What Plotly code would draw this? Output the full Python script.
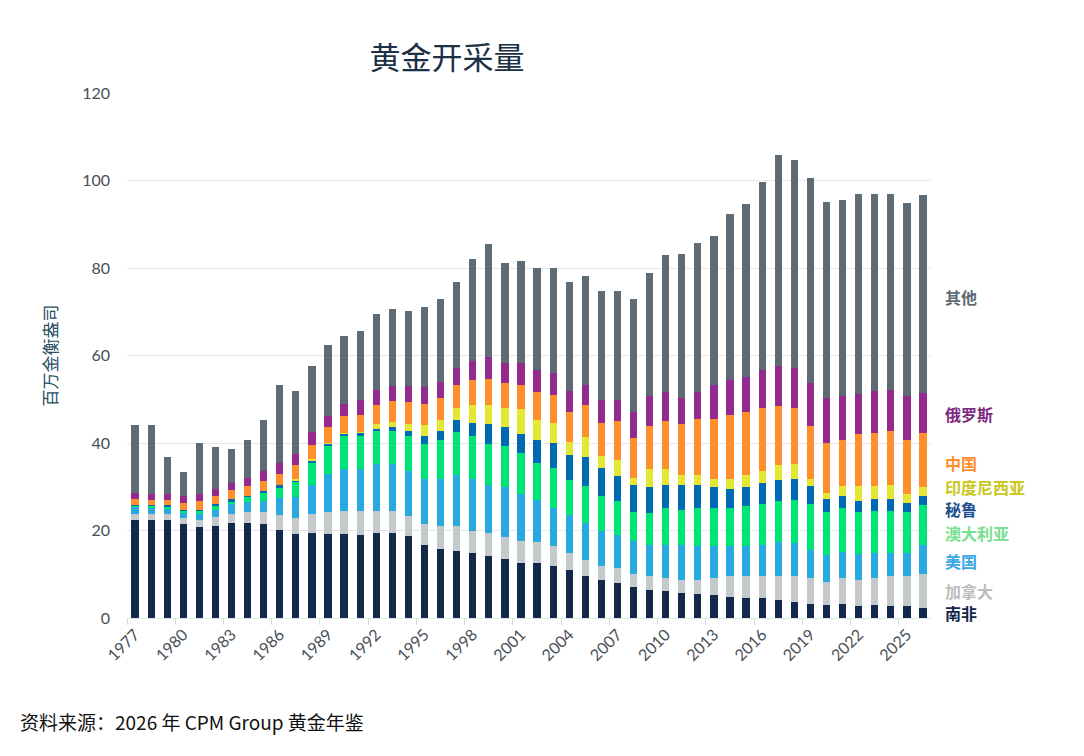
import plotly.graph_objects as go

years = [str(y) for y in range(1977, 2027)]

south_africa = [22.3, 22.3, 22.3, 21.4, 20.8, 21.0, 21.7, 21.7, 21.4, 20.2,
                19.3, 19.5, 19.1, 19.1, 18.9, 19.5, 19.5, 18.7, 16.8, 15.8,
                15.4, 14.9, 14.2, 13.6, 12.6, 12.6, 12.0, 10.9, 9.5, 8.6,
                8.0, 7.1, 6.5, 6.1, 5.8, 5.6, 5.2, 4.8, 4.6, 4.6,
                4.2, 3.7, 3.3, 2.9, 3.3, 2.7, 2.9, 2.7, 2.7, 2.4]
canada = [1.5, 1.5, 1.5, 1.5, 1.7, 2.2, 2.1, 2.5, 2.8, 3.4,
          3.6, 4.3, 5.1, 5.4, 5.6, 5.0, 5.0, 4.6, 4.6, 5.2,
          5.6, 4.9, 5.2, 4.9, 5.0, 4.8, 4.4, 4.0, 3.8, 3.4,
          3.4, 3.0, 3.0, 3.1, 3.0, 3.2, 4.0, 4.7, 4.9, 5.1,
          5.5, 6.0, 5.9, 5.3, 5.9, 5.9, 6.3, 6.8, 7.0, 7.7]
usa = [1.6, 1.4, 1.2, 1.1, 1.3, 1.6, 2.2, 2.3, 2.5, 3.8,
       4.8, 6.7, 8.8, 9.5, 9.5, 10.8, 10.8, 10.3, 10.3, 10.8,
       11.7, 11.9, 11.1, 11.4, 10.7, 9.6, 8.7, 8.6, 8.5, 7.9,
       7.6, 7.4, 7.3, 7.6, 7.8, 7.6, 7.2, 6.9, 6.9, 7.1,
       7.7, 7.4, 6.3, 6.3, 6.0, 6.0, 5.7, 5.4, 5.2, 6.7]
australia = [0.4, 0.5, 0.5, 0.5, 0.7, 0.9, 0.7, 1.2, 1.9, 2.5,
             3.4, 4.9, 6.5, 7.7, 7.7, 7.6, 7.4, 8.1, 8.1, 8.8,
             9.9, 10.0, 9.3, 9.4, 9.4, 8.4, 9.3, 8.0, 8.4, 8.1,
             7.7, 6.7, 7.2, 8.3, 8.2, 8.7, 8.7, 8.7, 9.1, 9.2,
             9.3, 9.9, 10.5, 9.7, 9.9, 9.6, 9.6, 9.6, 9.3, 9.0]
peru = [0.1, 0.1, 0.3, 0.3, 0.3, 0.4, 0.4, 0.3, 0.4, 0.4,
        0.4, 0.6, 0.3, 0.4, 0.6, 0.4, 1.0, 1.0, 1.9, 2.1,
        2.7, 2.9, 4.5, 4.4, 4.4, 5.2, 5.6, 5.7, 6.6, 6.4,
        5.8, 6.1, 5.9, 5.4, 5.5, 5.4, 4.8, 4.5, 4.4, 4.9,
        4.8, 4.7, 4.2, 2.9, 2.9, 2.5, 2.6, 2.6, 2.2, 2.2]
indonesia = [0.0, 0.0, 0.0, 0.0, 0.0, 0.0, 0.0, 0.0, 0.0, 0.0,
             0.2, 0.3, 0.2, 0.1, 0.2, 1.0, 1.1, 1.7, 2.5, 2.6,
             2.7, 4.0, 4.3, 4.3, 5.6, 4.7, 4.6, 3.0, 4.6, 2.6,
             3.7, 1.8, 4.1, 3.5, 2.3, 2.3, 1.8, 2.1, 2.7, 2.6,
             3.4, 3.4, 1.5, 1.5, 2.2, 3.5, 3.1, 3.4, 1.9, 1.9]
china = [1.4, 1.2, 1.2, 1.6, 1.9, 1.9, 2.2, 2.2, 2.3, 2.7,
         3.2, 3.3, 3.7, 3.9, 4.0, 4.5, 4.8, 5.0, 4.8, 5.0,
         5.2, 5.7, 6.1, 5.7, 5.6, 6.4, 6.3, 7.0, 7.4, 7.6,
         8.8, 9.0, 10.0, 11.0, 11.7, 12.8, 13.9, 14.8, 14.6, 14.5,
         13.5, 12.9, 12.3, 11.5, 10.6, 11.9, 12.2, 12.2, 12.5, 12.5]
russia = [1.3, 1.3, 1.3, 1.6, 1.6, 1.6, 1.6, 1.9, 2.3, 2.4,
          2.5, 2.9, 2.4, 2.9, 3.4, 3.4, 3.4, 3.6, 3.8, 3.6,
          3.9, 4.4, 5.0, 4.7, 5.1, 4.9, 5.1, 4.8, 4.5, 5.3,
          4.9, 6.1, 6.7, 6.7, 6.0, 6.1, 7.6, 7.8, 8.0, 8.8,
          9.1, 9.1, 9.7, 10.2, 9.9, 9.0, 9.5, 9.5, 9.9, 9.1]
other = [15.5, 15.8, 8.6, 5.4, 11.7, 9.5, 7.8, 8.5, 11.7, 17.8,
         14.5, 15.1, 16.2, 15.5, 15.8, 17.3, 17.7, 17.1, 18.3, 19.0,
         19.6, 23.3, 25.7, 22.7, 23.3, 23.5, 24.1, 24.7, 24.9, 24.9,
         24.9, 25.7, 28.2, 31.3, 33.0, 34.1, 34.1, 38.1, 39.4, 42.8,
         48.4, 47.5, 46.8, 44.9, 44.8, 45.9, 45.1, 44.8, 44.2, 45.2]

series_names = ["南非", "加拿大", "美国", "澳大利亚", "秘鲁", "印度尼西亚", "中国", "俄罗斯", "其他"]
series_values = [south_africa, canada, usa, australia, peru, indonesia, china, russia, other]
bar_colors = ["#13294b", "#c4c9cc", "#29a9e1", "#00e676", "#0069b4", "#e4e833", "#ff8f2d", "#952a8e", "#5e6a74"]
label_colors = ["#13294b", "#bcbcbc", "#3aa9e3", "#78e08f", "#1f4f8f", "#c8c81a", "#ff8f2d", "#7c2a82", "#5e6a74"]
label_y = [1.1, 6.2, 13.0, 19.4, 24.9, 29.9, 35.4, 46.6, 73.4]
y_ticks = [0, 20, 40, 60, 80, 100, 120]

fig = go.Figure()
for name, vals, col in zip(series_names, series_values, bar_colors):
    fig.add_trace(go.Bar(x=years, y=vals, name=name, marker=dict(color=col, line=dict(width=0))))

# page body has an 8px margin, so figure coordinates are offset by 8px
OFF = 8
W, H = 1084 - OFF, 756 - OFF
L, T = 127 - OFF, 92.5 - OFF
R = W - (931 - OFF)
B = H - (618 - OFF)
pw, ph = W - L - R, H - T - B

annotations = []
for name, yy, col in zip(series_names, label_y, label_colors):
    annotations.append(dict(x=(943 - OFF - L) / pw, y=yy, xref="paper", yref="y", text="<b>%s</b>" % name,
                            showarrow=False, xanchor="left", yanchor="middle",
                            font=dict(family="Noto Sans CJK SC", size=16, color=col)))
annotations.append(dict(x=(18 - OFF - L) / pw, y=(618 - 722) / ph, xref="paper", yref="paper",
                        text="资料来源：2026 年 CPM Group 黄金年鉴", showarrow=False,
                        xanchor="left", yanchor="middle",
                        font=dict(family="Noto Sans CJK SC", size=19, color="#111111")))

fig.update_layout(
    barmode="stack",
    bargap=0.55,
    width=W, height=H,
    margin=dict(l=L, r=R, t=T, b=B, autoexpand=False),
    paper_bgcolor="white", plot_bgcolor="white",
    showlegend=False,
    title=dict(text="黄金开采量", x=(447 - OFF) / W, xanchor="center", xref="container",
               y=1 - (58 - OFF) / H, yanchor="middle", yref="container",
               font=dict(family="Noto Sans CJK SC", size=31, color="#1b2f45")),
    annotations=annotations,
    xaxis=dict(type="category", tickson="boundaries", dtick=3, tickangle=-45,
               ticks="outside", ticklen=6, tickcolor="#dddddd", showgrid=False,
               showline=True, linecolor="#e3e3e3",
               tickfont=dict(family="Lato", size=16, color="#4a4f55")),
    yaxis=dict(range=[0, 120], tickvals=y_ticks, showgrid=True, gridcolor="#e8e8e8",
               zeroline=False, ticklabelstandoff=16,
               tickfont=dict(family="Lato", size=16, color="#4a4f55"),
               title=dict(text="百万金衡盎司", standoff=20,
                          font=dict(family="Noto Sans CJK SC", size=17, color="#1f4e5f"))),
)

fig.write_html("out.html")
